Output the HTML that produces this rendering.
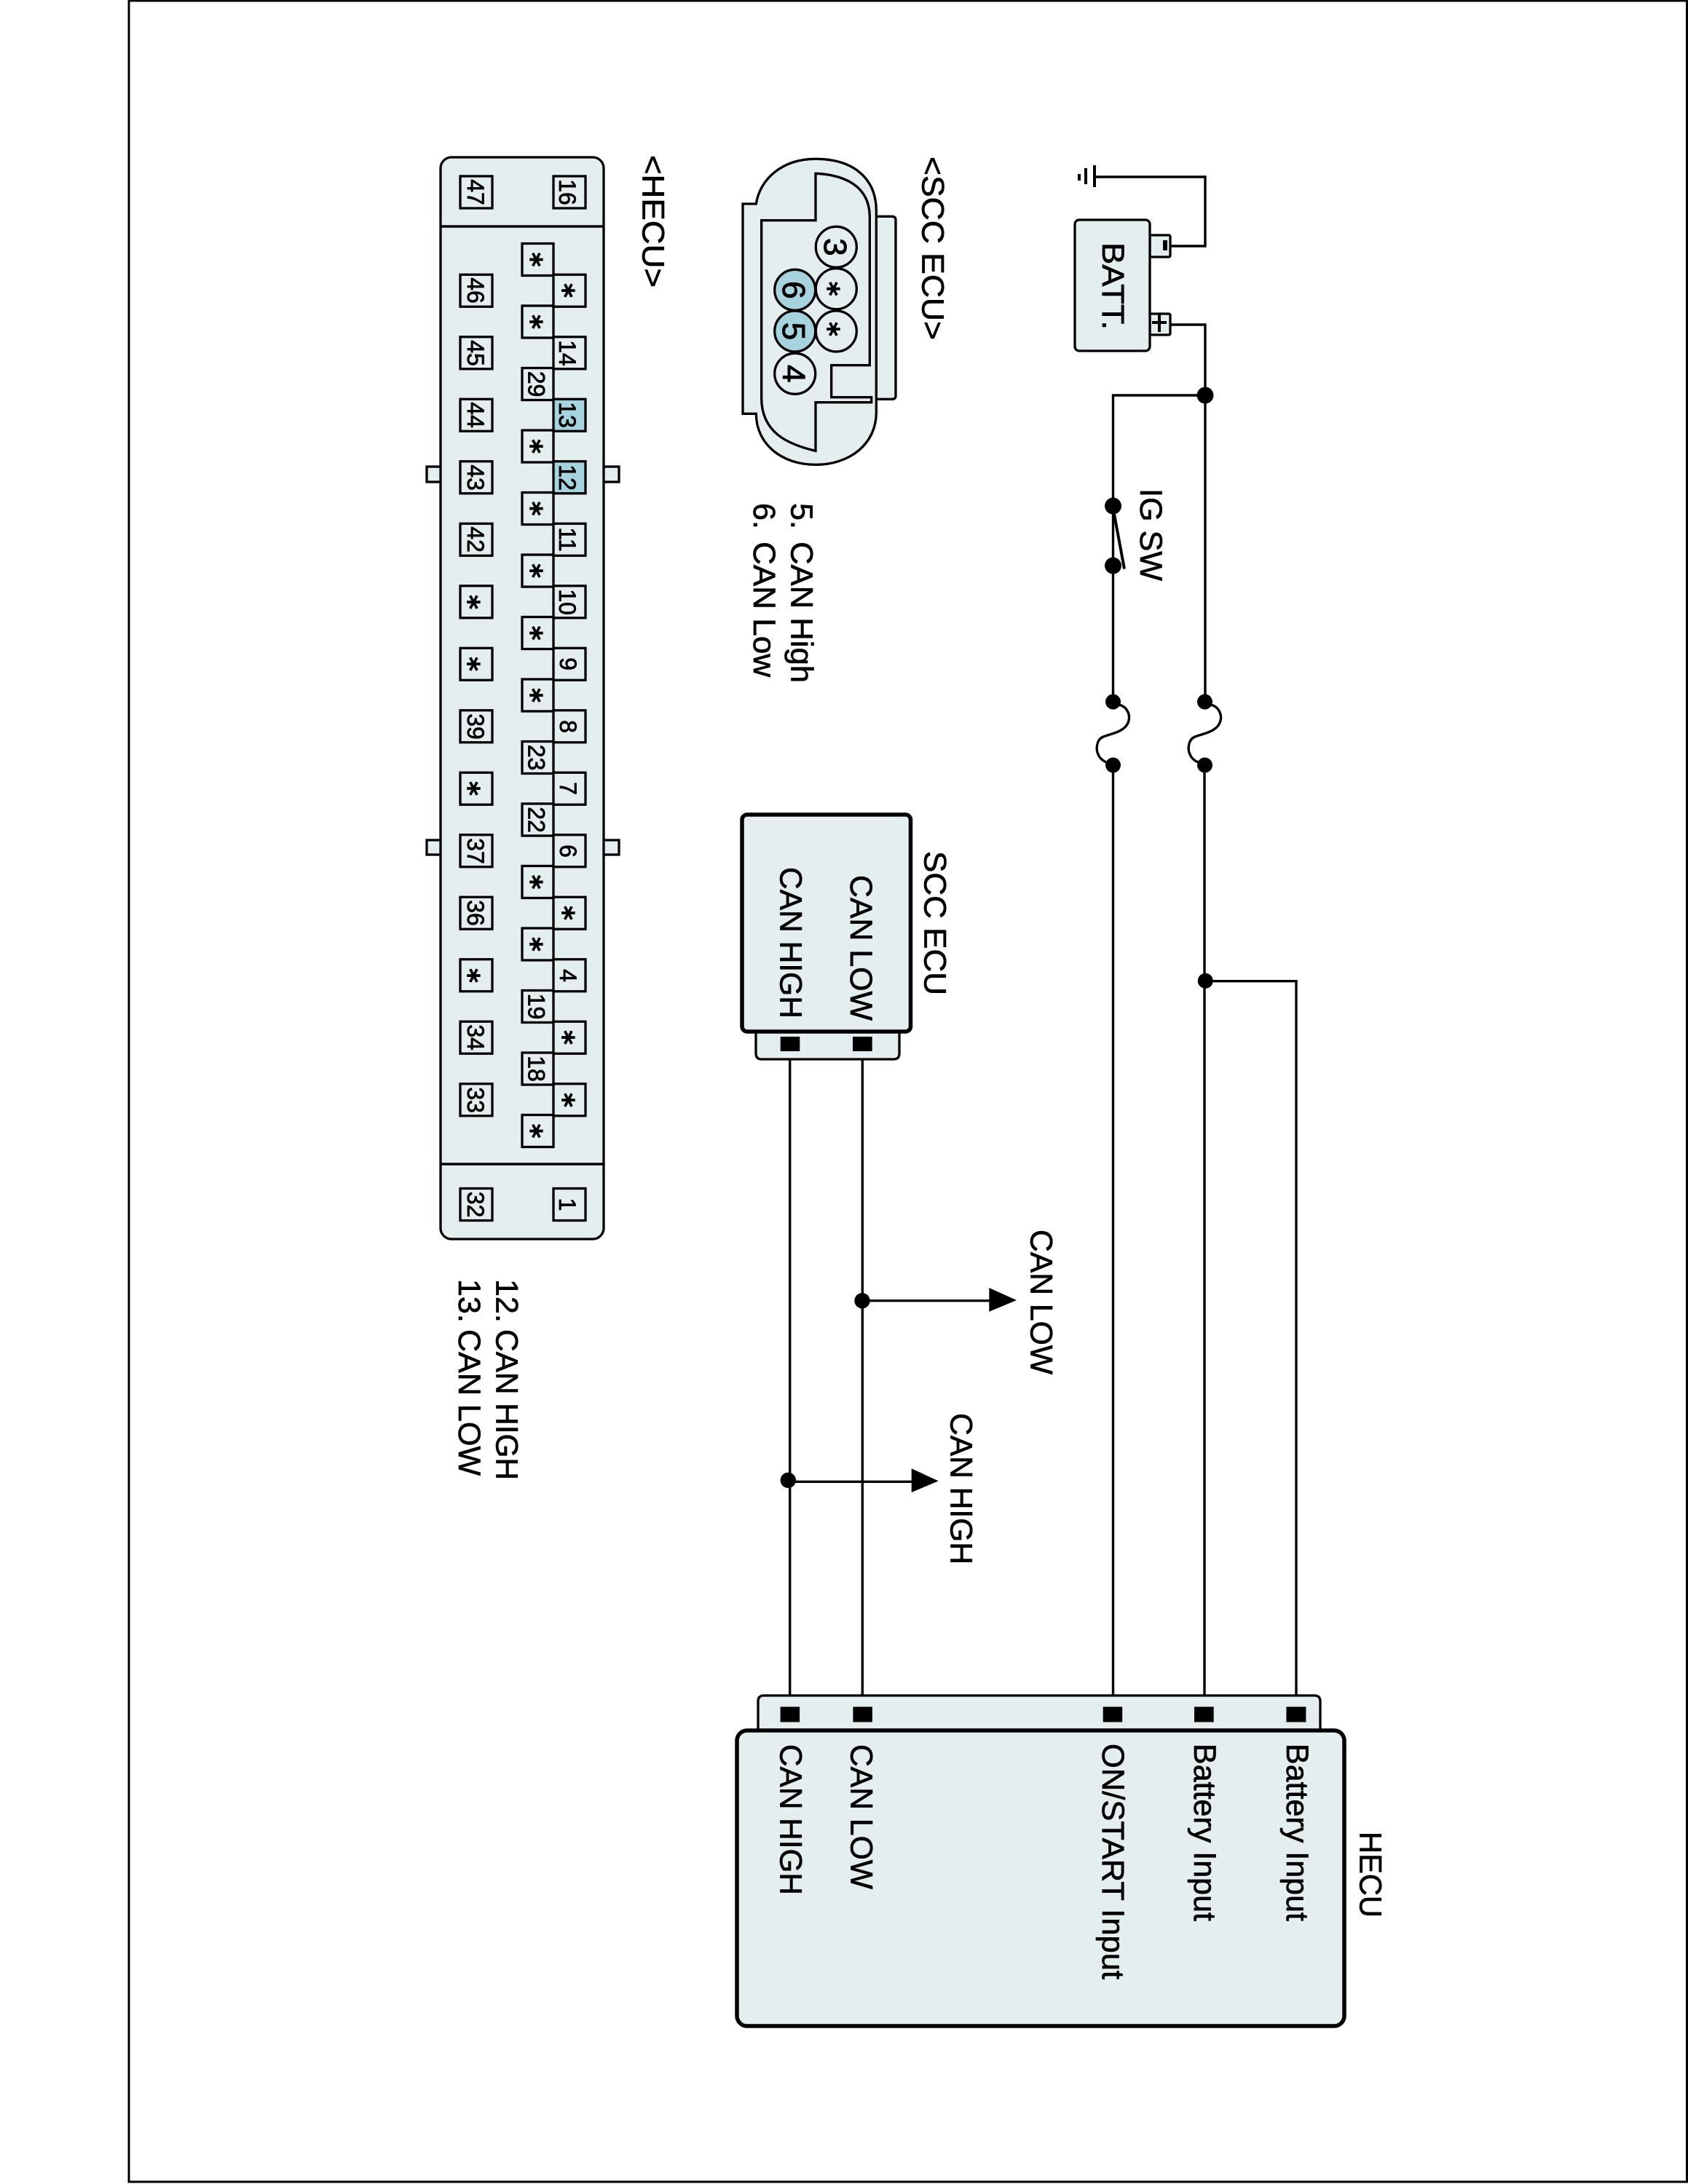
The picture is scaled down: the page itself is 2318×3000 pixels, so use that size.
<!DOCTYPE html>
<html><head><meta charset="utf-8"><style>
html,body{margin:0;padding:0;background:#fff}
svg{display:block}
text{font-family:"Liberation Sans",sans-serif;fill:#000;stroke:#000;stroke-width:.7}
.t{font-size:43px}
.n{font-size:32px;text-anchor:middle;stroke-width:.8}
.a{font-family:"DejaVu Sans",sans-serif;font-weight:bold;font-size:38px;text-anchor:middle}
.c{font-size:44px;text-anchor:middle;stroke-width:1}
.b{fill:#e5eeef;stroke:#000;stroke-width:3.3}
.h{fill:#a7d3de;stroke:#000;stroke-width:3.3}
.w{fill:none;stroke:#000;stroke-width:3.4}
</style></head><body>
<svg xmlns="http://www.w3.org/2000/svg" width="2318" height="3000" viewBox="0 0 2318 3000">
<rect width="2318" height="3000" fill="#fff"/>
<rect x="177" y="1" width="2139.5" height="2996" fill="none" stroke="#000" stroke-width="3"/>

<!-- HECU connector -->
<g class="b">
<rect class="b" x="586" y="641" width="30" height="21"/>
<rect class="b" x="820" y="641" width="30" height="21"/>
<rect class="b" x="586" y="1154" width="30" height="20"/>
<rect class="b" x="820" y="1154" width="30" height="20"/>
<rect class="b" x="605" y="216" width="224" height="1486" rx="15"/>
</g>
<path d="M605 311H829M605 1599H829" class="w"/>

<g>
<rect class="b" x="632" y="242" width="44" height="44"/>
<rect class="b" x="632" y="377.25" width="44" height="44"/>
<rect class="b" x="632" y="462.75" width="44" height="44"/>
<rect class="b" x="632" y="548.25" width="44" height="44"/>
<rect class="b" x="632" y="633.75" width="44" height="44"/>
<rect class="b" x="632" y="719.25" width="44" height="44"/>
<rect class="b" x="632" y="804.75" width="44" height="44"/>
<rect class="b" x="632" y="890.25" width="44" height="44"/>
<rect class="b" x="632" y="975.75" width="44" height="44"/>
<rect class="b" x="632" y="1061.25" width="44" height="44"/>
<rect class="b" x="632" y="1146.75" width="44" height="44"/>
<rect class="b" x="632" y="1232.25" width="44" height="44"/>
<rect class="b" x="632" y="1317.75" width="44" height="44"/>
<rect class="b" x="632" y="1403.25" width="44" height="44"/>
<rect class="b" x="632" y="1488.75" width="44" height="44"/>
<rect class="b" x="632" y="1632.5" width="44" height="44"/>

<rect class="b" x="717" y="334.5" width="43" height="44"/>
<rect class="b" x="717" y="420" width="43" height="44"/>
<rect class="b" x="717" y="505.5" width="43" height="44"/>
<rect class="b" x="717" y="591" width="43" height="44"/>
<rect class="b" x="717" y="676.5" width="43" height="44"/>
<rect class="b" x="717" y="762" width="43" height="44"/>
<rect class="b" x="717" y="847.5" width="43" height="44"/>
<rect class="b" x="717" y="933" width="43" height="44"/>
<rect class="b" x="717" y="1018.5" width="43" height="44"/>
<rect class="b" x="717" y="1104" width="43" height="44"/>
<rect class="b" x="717" y="1189.5" width="43" height="44"/>
<rect class="b" x="717" y="1275" width="43" height="44"/>
<rect class="b" x="717" y="1360.5" width="43" height="44"/>
<rect class="b" x="717" y="1446" width="43" height="44"/>
<rect class="b" x="717" y="1531.5" width="43" height="44"/>

<rect class="b" x="760" y="242" width="44" height="44"/>
<rect class="b" x="760" y="377.25" width="44" height="44"/>
<rect class="b" x="760" y="462.75" width="44" height="44"/>
<rect class="h" x="760" y="548.25" width="44" height="44"/>
<rect class="h" x="760" y="633.75" width="44" height="44"/>
<rect class="b" x="760" y="719.25" width="44" height="44"/>
<rect class="b" x="760" y="804.75" width="44" height="44"/>
<rect class="b" x="760" y="890.25" width="44" height="44"/>
<rect class="b" x="760" y="975.75" width="44" height="44"/>
<rect class="b" x="760" y="1061.25" width="44" height="44"/>
<rect class="b" x="760" y="1146.75" width="44" height="44"/>
<rect class="b" x="760" y="1232.25" width="44" height="44"/>
<rect class="b" x="760" y="1317.75" width="44" height="44"/>
<rect class="b" x="760" y="1403.25" width="44" height="44"/>
<rect class="b" x="760" y="1488.75" width="44" height="44"/>
<rect class="b" x="760" y="1632.5" width="44" height="44"/>
</g>

<!-- Column A labels -->
<text class="n" transform="translate(642 264) rotate(90)">47</text>
<text class="n" transform="translate(642 399) rotate(90)">46</text>
<text class="n" transform="translate(642 485) rotate(90)">45</text>
<text class="n" transform="translate(642 570) rotate(90)">44</text>
<text class="n" transform="translate(642 656) rotate(90)">43</text>
<text class="n" transform="translate(642 741) rotate(90)">42</text>
<text class="a" transform="translate(631 827) rotate(90)">*</text>
<text class="a" transform="translate(631 912) rotate(90)">*</text>
<text class="n" transform="translate(642 998) rotate(90)">39</text>
<text class="a" transform="translate(631 1083) rotate(90)">*</text>
<text class="n" transform="translate(642 1169) rotate(90)">37</text>
<text class="n" transform="translate(642 1254) rotate(90)">36</text>
<text class="a" transform="translate(631 1340) rotate(90)">*</text>
<text class="n" transform="translate(642 1425) rotate(90)">34</text>
<text class="n" transform="translate(642 1511) rotate(90)">33</text>
<text class="n" transform="translate(642 1654.5) rotate(90)">32</text>

<!-- Column B labels -->
<text class="a" transform="translate(717 356.5) rotate(90)">*</text>
<text class="a" transform="translate(717 442) rotate(90)">*</text>
<text class="n" transform="translate(725.5 527.5) rotate(90)">29</text>
<text class="a" transform="translate(717 613) rotate(90)">*</text>
<text class="a" transform="translate(717 698.5) rotate(90)">*</text>
<text class="a" transform="translate(717 784) rotate(90)">*</text>
<text class="a" transform="translate(717 869.5) rotate(90)">*</text>
<text class="a" transform="translate(717 955) rotate(90)">*</text>
<text class="n" transform="translate(725.5 1040.5) rotate(90)">23</text>
<text class="n" transform="translate(725.5 1126) rotate(90)">22</text>
<text class="a" transform="translate(717 1211.5) rotate(90)">*</text>
<text class="a" transform="translate(717 1297) rotate(90)">*</text>
<text class="n" transform="translate(725.5 1382.5) rotate(90)">19</text>
<text class="n" transform="translate(725.5 1468) rotate(90)">18</text>
<text class="a" transform="translate(717 1553.5) rotate(90)">*</text>

<!-- Column C labels -->
<text class="n" transform="translate(768 264) rotate(90)">16</text>
<text class="a" transform="translate(761 399) rotate(90)">*</text>
<text class="n" transform="translate(768 485) rotate(90)">14</text>
<text class="n" transform="translate(768 570) rotate(90)">13</text>
<text class="n" transform="translate(768 656) rotate(90)">12</text>
<text class="n" transform="translate(768 741) rotate(90)">11</text>
<text class="n" transform="translate(768 827) rotate(90)">10</text>
<text class="n" transform="translate(769 912) rotate(90)">9</text>
<text class="n" transform="translate(769 998) rotate(90)">8</text>
<text class="n" transform="translate(769 1083) rotate(90)">7</text>
<text class="n" transform="translate(769 1169) rotate(90)">6</text>
<text class="a" transform="translate(761 1254) rotate(90)">*</text>
<text class="n" transform="translate(769 1340) rotate(90)">4</text>
<text class="a" transform="translate(761 1425) rotate(90)">*</text>
<text class="a" transform="translate(761 1511) rotate(90)">*</text>
<text class="n" transform="translate(768 1654.5) rotate(90)">1</text>

<text class="t" transform="translate(882.7 213) rotate(90)" textLength="182" lengthAdjust="spacingAndGlyphs">&lt;HECU&gt;</text>

<text class="t" transform="translate(681.7 1757) rotate(90)">12.</text>
<text class="t" transform="translate(681.7 1826) rotate(90)" textLength="207" lengthAdjust="spacingAndGlyphs">CAN HIGH</text>
<text class="t" transform="translate(630 1757) rotate(90)">13.</text>
<text class="t" transform="translate(630 1826) rotate(90)" textLength="201" lengthAdjust="spacingAndGlyphs">CAN LOW</text>

<!-- SCC ECU connector -->
<g transform="translate(980 180) scale(.33333)" fill="#e5eeef" stroke="#000" stroke-width="10">
<path d="M670 352H735Q750 352 750 367V1090Q750 1105 735 1105H670Z"/>
<path d="M120 300H175C190 200 280 115 420 115C570 115 670 190 670 330V1160C670 1290 560 1375 420 1375C280 1375 175 1290 175 1165H120Z"/>
<path d="M420 175C530 180 640 220 643 350V965H485V1097H650V1118H420V1318C300 1290 197 1240 197 1100V368H420Z"/>
</g>
<circle class="b" cx="1148.3" cy="339.3" r="28"/>
<circle class="b" cx="1148.3" cy="396.7" r="28"/>
<circle class="b" cx="1148.3" cy="455" r="28"/>
<circle class="h" cx="1091.7" cy="398.3" r="28"/>
<circle class="h" cx="1091.7" cy="455" r="28"/>
<circle class="b" cx="1091.7" cy="513.3" r="28"/>
<text class="c" transform="translate(1132 339.3) rotate(90)">3</text>
<text class="a" transform="translate(1125 396.7) rotate(90)">*</text>
<text class="a" transform="translate(1125 452) rotate(90)">*</text>
<text class="c" transform="translate(1075 398.3) rotate(90)">6</text>
<text class="c" transform="translate(1075 455) rotate(90)">5</text>
<text class="c" transform="translate(1075 513.3) rotate(90)">4</text>
<text class="t" transform="translate(1266.7 215) rotate(90)" textLength="252" lengthAdjust="spacingAndGlyphs">&lt;SCC ECU&gt;</text>

<text class="t" transform="translate(1086.7 691) rotate(90)">5.</text>
<text class="t" transform="translate(1086.7 744) rotate(90)" textLength="194" lengthAdjust="spacingAndGlyphs">CAN High</text>
<text class="t" transform="translate(1035 691) rotate(90)">6.</text>
<text class="t" transform="translate(1035 744) rotate(90)" textLength="186" lengthAdjust="spacingAndGlyphs">CAN Low</text>

<!-- Ground + battery -->
<path d="M1503 243H1655V338H1607M1607 446H1655V964M1655 543H1528.5V964" class="w"/>
<rect x="1501" y="227" width="4" height="30" fill="#000"/>
<rect x="1489" y="231" width="4" height="22" fill="#000"/>
<rect x="1480" y="239" width="4" height="9" fill="#000"/>
<rect class="b" x="1579" y="323" width="28" height="30" rx="2"/>
<rect class="b" x="1579" y="431" width="28" height="29" rx="2"/>
<rect class="b" x="1476" y="302" width="103" height="180" rx="6"/>
<rect x="1597" y="330" width="6" height="14" fill="#000"/>
<path d="M1582 443H1602M1592 432V456" fill="none" stroke="#000" stroke-width="4"/>
<text class="t" transform="translate(1514 333) rotate(90)" textLength="120" lengthAdjust="spacingAndGlyphs">BATT.</text>
<circle cx="1655" cy="543" r="11.5"/>

<!-- IG switch -->
<circle cx="1528.5" cy="695" r="11.5"/>
<circle cx="1528.5" cy="777" r="11.5"/>
<path d="M1530 706L1544 781.5" fill="none" stroke="#000" stroke-width="4"/>
<text class="t" transform="translate(1566 671) rotate(90)" textLength="127" lengthAdjust="spacingAndGlyphs">IG SW</text>

<!-- Fuses -->
<circle cx="1528.5" cy="964" r="10.5"/>
<circle cx="1528.5" cy="1051" r="10.5"/>
<path d="M1536 968C1548 970 1552 982 1550 990C1546 1006 1524 1008 1515 1012C1505 1016 1505 1030 1508 1036C1510 1042 1516 1046 1522 1048" class="w"/>
<circle cx="1654.5" cy="964" r="10.5"/>
<circle cx="1654.5" cy="1051" r="10.5"/>
<path d="M1662 968C1674 970 1678 982 1676 990C1672 1006 1650 1008 1641 1012C1631 1016 1631 1030 1634 1036C1636 1042 1642 1046 1648 1048" class="w"/>

<!-- Wires -->
<path d="M1528.5 1051V2350M1654 1051V2350M1654 1347.7H1780V2350M1084.7 1442V2350M1184.3 1442V2350" class="w"/>
<circle cx="1655.3" cy="1347.3" r="10.5"/>

<!-- SCC ECU block -->
<path d="M1038 1410V1447Q1038 1455 1046 1455H1227Q1235 1455 1235 1447V1410Z" class="b"/>
<rect x="1019" y="1119" width="231.5" height="298" rx="7" fill="#e5eeef" stroke="#000" stroke-width="5.5"/>
<rect x="1071.7" y="1424" width="26.6" height="20"/>
<rect x="1171" y="1424" width="26.7" height="20"/>
<text class="t" transform="translate(1269.3 1169) rotate(90)" textLength="198" lengthAdjust="spacingAndGlyphs">SCC ECU</text>
<text class="t" transform="translate(1168 1202) rotate(90)" textLength="200" lengthAdjust="spacingAndGlyphs">CAN LOW</text>
<text class="t" transform="translate(1071.7 1191) rotate(90)" textLength="208" lengthAdjust="spacingAndGlyphs">CAN HIGH</text>

<!-- Arrows -->
<circle cx="1184" cy="1786.7" r="10.7"/>
<path d="M1184 1786.7H1360" class="w"/>
<polygon points="1358.3,1769 1396,1786 1358.3,1801.7"/>
<text class="t" transform="translate(1415.5 1689) rotate(90)" textLength="199" lengthAdjust="spacingAndGlyphs">CAN LOW</text>
<circle cx="1082.3" cy="2033.3" r="10.7"/>
<path d="M1082 2035.3H1253" class="w"/>
<polygon points="1251.7,2017.3 1288.7,2034.3 1251.7,2050"/>
<text class="t" transform="translate(1305.5 1941) rotate(90)" textLength="208" lengthAdjust="spacingAndGlyphs">CAN HIGH</text>

<!-- HECU block -->
<path d="M1041 2385V2337Q1041 2329 1049 2329H1805Q1813 2329 1813 2337V2385Z" class="b"/>
<rect x="1012" y="2377" width="834" height="406" rx="14" fill="#e5eeef" stroke="#000" stroke-width="5.5"/>
<rect x="1071.6" y="2344.5" width="26.5" height="21"/>
<rect x="1171.4" y="2344.5" width="26.5" height="21"/>
<rect x="1514.7" y="2344.5" width="26.5" height="21"/>
<rect x="1640" y="2344.5" width="26.7" height="21"/>
<rect x="1766.4" y="2344.5" width="27" height="21"/>
<text class="t" transform="translate(1867.5 2516) rotate(90)" textLength="118" lengthAdjust="spacingAndGlyphs">HECU</text>
<text class="t" transform="translate(1767 2395) rotate(90)" textLength="244" lengthAdjust="spacingAndGlyphs">Battery Input</text>
<text class="t" transform="translate(1640 2395) rotate(90)" textLength="244" lengthAdjust="spacingAndGlyphs">Battery Input</text>
<text class="t" transform="translate(1514 2395) rotate(90)" textLength="324" lengthAdjust="spacingAndGlyphs">ON/START Input</text>
<text class="t" transform="translate(1168.5 2396) rotate(90)" textLength="199" lengthAdjust="spacingAndGlyphs">CAN LOW</text>
<text class="t" transform="translate(1071.5 2396) rotate(90)" textLength="207" lengthAdjust="spacingAndGlyphs">CAN HIGH</text>
</svg>
</body></html>
